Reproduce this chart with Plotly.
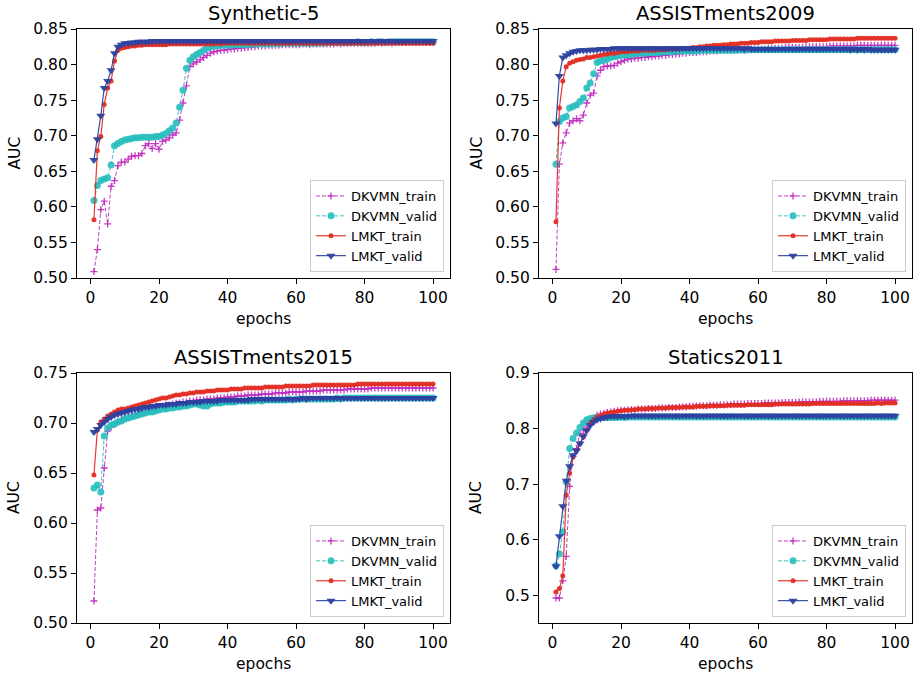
import plotly.graph_objects as go

epochs = list(range(1, 101))

# ---------------- Synthetic-5 ----------------
syn_dkvmn_train = [
    0.509, 0.540, 0.596, 0.608, 0.576, 0.629, 0.637, 0.658, 0.663, 0.663,
    0.667, 0.671, 0.672, 0.672, 0.675, 0.686, 0.689, 0.682, 0.689, 0.681,
    0.692, 0.694, 0.697, 0.701, 0.704, 0.722, 0.746, 0.770, 0.797, 0.801,
    0.804, 0.807, 0.810, 0.813, 0.816, 0.818, 0.819, 0.820, 0.820, 0.821,
    0.822, 0.822, 0.823, 0.823, 0.824, 0.824, 0.825, 0.825, 0.826, 0.826,
    0.826, 0.827, 0.827, 0.827, 0.827, 0.828, 0.828, 0.828, 0.828, 0.828,
    0.828, 0.829, 0.829, 0.828, 0.829, 0.829, 0.829, 0.829, 0.829, 0.829,
    0.829, 0.830, 0.829, 0.830, 0.830, 0.830, 0.830, 0.830, 0.830, 0.830,
    0.830, 0.830, 0.830, 0.831, 0.830, 0.831, 0.831, 0.830, 0.831, 0.831,
    0.831, 0.831, 0.831, 0.831, 0.831, 0.831, 0.831, 0.831, 0.831, 0.831]
syn_dkvmn_valid = [
    0.609, 0.630, 0.637, 0.639, 0.641, 0.659, 0.686, 0.689, 0.692, 0.694,
    0.695, 0.696, 0.697, 0.697, 0.698, 0.698, 0.698, 0.698, 0.699, 0.699,
    0.701, 0.703, 0.707, 0.711, 0.718, 0.740, 0.764, 0.795, 0.806, 0.811,
    0.814, 0.817, 0.820, 0.823, 0.825, 0.826, 0.826, 0.827, 0.827, 0.827,
    0.827, 0.828, 0.828, 0.828, 0.828, 0.828, 0.829, 0.829, 0.829, 0.829,
    0.829, 0.829, 0.829, 0.830, 0.829, 0.830, 0.830, 0.830, 0.830, 0.830,
    0.830, 0.830, 0.830, 0.830, 0.830, 0.830, 0.831, 0.830, 0.831, 0.831,
    0.831, 0.831, 0.831, 0.831, 0.831, 0.831, 0.831, 0.832, 0.831, 0.831,
    0.831, 0.832, 0.831, 0.832, 0.832, 0.831, 0.832, 0.832, 0.832, 0.832,
    0.832, 0.832, 0.832, 0.832, 0.832, 0.832, 0.832, 0.832, 0.832, 0.832]
syn_lmkt_train = [
    0.582, 0.679, 0.699, 0.744, 0.767, 0.777, 0.805, 0.820, 0.823, 0.824,
    0.825, 0.826, 0.826, 0.827, 0.827, 0.828, 0.828, 0.828, 0.828, 0.828,
    0.828, 0.828, 0.829, 0.829, 0.829, 0.829, 0.829, 0.829, 0.829, 0.829,
    0.829, 0.829, 0.829, 0.829, 0.829, 0.829, 0.830, 0.829, 0.830, 0.830,
    0.830, 0.830, 0.830, 0.830, 0.830, 0.830, 0.830, 0.830, 0.830, 0.830,
    0.830, 0.830, 0.830, 0.830, 0.830, 0.830, 0.830, 0.830, 0.830, 0.830,
    0.830, 0.830, 0.830, 0.830, 0.830, 0.830, 0.830, 0.830, 0.830, 0.830,
    0.830, 0.830, 0.830, 0.830, 0.830, 0.830, 0.830, 0.830, 0.830, 0.830,
    0.830, 0.830, 0.830, 0.830, 0.830, 0.830, 0.830, 0.830, 0.830, 0.830,
    0.830, 0.830, 0.830, 0.830, 0.830, 0.830, 0.830, 0.830, 0.830, 0.830]
syn_lmkt_valid = [
    0.666, 0.695, 0.728, 0.767, 0.777, 0.792, 0.816, 0.825, 0.828, 0.830,
    0.830, 0.831, 0.831, 0.832, 0.832, 0.832, 0.832, 0.833, 0.833, 0.833,
    0.833, 0.833, 0.833, 0.833, 0.833, 0.833, 0.833, 0.833, 0.833, 0.833,
    0.833, 0.833, 0.833, 0.833, 0.833, 0.833, 0.833, 0.833, 0.833, 0.833,
    0.833, 0.833, 0.833, 0.833, 0.833, 0.833, 0.833, 0.833, 0.833, 0.833,
    0.833, 0.833, 0.833, 0.833, 0.833, 0.833, 0.833, 0.833, 0.833, 0.833,
    0.833, 0.833, 0.833, 0.833, 0.833, 0.833, 0.833, 0.833, 0.833, 0.833,
    0.833, 0.833, 0.833, 0.833, 0.833, 0.833, 0.833, 0.833, 0.833, 0.833,
    0.833, 0.833, 0.833, 0.833, 0.833, 0.833, 0.833, 0.833, 0.833, 0.833,
    0.833, 0.833, 0.833, 0.833, 0.833, 0.833, 0.833, 0.833, 0.833, 0.833]

# ---------------- ASSISTments2009 ----------------
a09_dkvmn_train = [
    0.512, 0.660, 0.690, 0.704, 0.718, 0.721, 0.724, 0.721, 0.729, 0.746,
    0.757, 0.760, 0.784, 0.792, 0.797, 0.798, 0.798, 0.799, 0.802, 0.804,
    0.806, 0.808, 0.808, 0.809, 0.809, 0.810, 0.810, 0.811, 0.811, 0.812,
    0.812, 0.813, 0.813, 0.814, 0.814, 0.815, 0.815, 0.816, 0.816, 0.817,
    0.817, 0.817, 0.818, 0.818, 0.818, 0.819, 0.819, 0.819, 0.820, 0.820,
    0.820, 0.820, 0.821, 0.821, 0.821, 0.821, 0.821, 0.822, 0.822, 0.822,
    0.822, 0.822, 0.823, 0.823, 0.823, 0.823, 0.823, 0.824, 0.824, 0.824,
    0.824, 0.824, 0.824, 0.825, 0.825, 0.825, 0.825, 0.825, 0.825, 0.825,
    0.826, 0.826, 0.826, 0.826, 0.826, 0.826, 0.826, 0.826, 0.827, 0.827,
    0.827, 0.827, 0.827, 0.827, 0.827, 0.827, 0.827, 0.827, 0.827, 0.827]
a09_dkvmn_valid = [
    0.660, 0.720, 0.725, 0.727, 0.739, 0.741, 0.743, 0.748, 0.753, 0.767,
    0.774, 0.787, 0.803, 0.805, 0.806, 0.808, 0.810, 0.811, 0.812, 0.813,
    0.813, 0.814, 0.814, 0.815, 0.816, 0.816, 0.816, 0.817, 0.817, 0.817,
    0.817, 0.818, 0.818, 0.818, 0.818, 0.819, 0.819, 0.819, 0.819, 0.819,
    0.819, 0.819, 0.820, 0.820, 0.820, 0.820, 0.820, 0.820, 0.820, 0.820,
    0.820, 0.820, 0.820, 0.820, 0.821, 0.820, 0.821, 0.821, 0.821, 0.821,
    0.821, 0.821, 0.821, 0.821, 0.821, 0.821, 0.821, 0.821, 0.821, 0.821,
    0.821, 0.821, 0.821, 0.821, 0.821, 0.821, 0.821, 0.821, 0.821, 0.821,
    0.821, 0.821, 0.821, 0.821, 0.821, 0.821, 0.821, 0.821, 0.821, 0.821,
    0.821, 0.821, 0.821, 0.821, 0.821, 0.821, 0.821, 0.821, 0.821, 0.821]
a09_lmkt_train = [
    0.579, 0.739, 0.777, 0.797, 0.802, 0.804, 0.806, 0.807, 0.808, 0.810,
    0.810, 0.811, 0.812, 0.813, 0.814, 0.815, 0.816, 0.816, 0.817, 0.818,
    0.818, 0.818, 0.819, 0.819, 0.819, 0.820, 0.820, 0.820, 0.820, 0.820,
    0.821, 0.821, 0.821, 0.822, 0.822, 0.822, 0.822, 0.823, 0.823, 0.823,
    0.824, 0.824, 0.825, 0.825, 0.826, 0.826, 0.827, 0.827, 0.827, 0.828,
    0.828, 0.829, 0.829, 0.829, 0.830, 0.830, 0.830, 0.831, 0.831, 0.831,
    0.832, 0.832, 0.832, 0.832, 0.833, 0.833, 0.833, 0.833, 0.833, 0.834,
    0.834, 0.834, 0.834, 0.834, 0.835, 0.835, 0.835, 0.835, 0.835, 0.835,
    0.836, 0.836, 0.836, 0.836, 0.836, 0.836, 0.836, 0.836, 0.837, 0.837,
    0.837, 0.837, 0.837, 0.837, 0.837, 0.837, 0.837, 0.837, 0.837, 0.837]
a09_lmkt_valid = [
    0.717, 0.784, 0.810, 0.813, 0.816, 0.818, 0.819, 0.820, 0.820, 0.820,
    0.821, 0.821, 0.821, 0.822, 0.822, 0.822, 0.822, 0.823, 0.823, 0.823,
    0.823, 0.823, 0.823, 0.823, 0.823, 0.823, 0.823, 0.823, 0.823, 0.823,
    0.823, 0.823, 0.823, 0.823, 0.823, 0.823, 0.823, 0.823, 0.823, 0.823,
    0.823, 0.823, 0.823, 0.823, 0.823, 0.823, 0.823, 0.823, 0.823, 0.823,
    0.823, 0.823, 0.823, 0.823, 0.823, 0.822, 0.823, 0.822, 0.822, 0.822,
    0.822, 0.822, 0.822, 0.822, 0.822, 0.822, 0.822, 0.822, 0.822, 0.822,
    0.822, 0.822, 0.822, 0.822, 0.822, 0.822, 0.822, 0.822, 0.822, 0.822,
    0.822, 0.822, 0.822, 0.822, 0.822, 0.822, 0.821, 0.822, 0.821, 0.822,
    0.821, 0.822, 0.821, 0.821, 0.821, 0.821, 0.821, 0.821, 0.821, 0.821]

# ---------------- ASSISTments2015 ----------------
a15_dkvmn_train = [
    0.522, 0.613, 0.615, 0.655, 0.692, 0.696, 0.699, 0.701, 0.703, 0.705,
    0.706, 0.707, 0.709, 0.710, 0.711, 0.712, 0.713, 0.714, 0.715, 0.716,
    0.717, 0.718, 0.718, 0.719, 0.720, 0.720, 0.721, 0.721, 0.722, 0.722,
    0.723, 0.723, 0.723, 0.724, 0.724, 0.724, 0.725, 0.725, 0.725, 0.726,
    0.726, 0.726, 0.727, 0.727, 0.727, 0.728, 0.728, 0.728, 0.728, 0.729,
    0.729, 0.729, 0.729, 0.730, 0.730, 0.730, 0.730, 0.731, 0.731, 0.731,
    0.731, 0.731, 0.732, 0.732, 0.732, 0.732, 0.732, 0.733, 0.733, 0.733,
    0.733, 0.733, 0.733, 0.733, 0.734, 0.734, 0.734, 0.734, 0.734, 0.734,
    0.734, 0.735, 0.735, 0.735, 0.735, 0.735, 0.735, 0.735, 0.735, 0.735,
    0.735, 0.735, 0.735, 0.735, 0.735, 0.735, 0.735, 0.735, 0.735, 0.735]
a15_dkvmn_valid = [
    0.635, 0.638, 0.631, 0.687, 0.695, 0.698, 0.699, 0.701, 0.702, 0.704,
    0.705, 0.706, 0.707, 0.708, 0.709, 0.710, 0.711, 0.711, 0.712, 0.713,
    0.714, 0.714, 0.715, 0.715, 0.716, 0.716, 0.717, 0.717, 0.718, 0.719,
    0.719, 0.718, 0.717, 0.717, 0.719, 0.720, 0.720, 0.720, 0.721, 0.721,
    0.721, 0.721, 0.722, 0.722, 0.722, 0.722, 0.722, 0.722, 0.723, 0.722,
    0.723, 0.723, 0.723, 0.723, 0.723, 0.723, 0.723, 0.724, 0.723, 0.724,
    0.724, 0.724, 0.724, 0.724, 0.724, 0.724, 0.724, 0.724, 0.724, 0.724,
    0.724, 0.725, 0.724, 0.725, 0.725, 0.725, 0.725, 0.725, 0.725, 0.725,
    0.725, 0.725, 0.725, 0.725, 0.725, 0.725, 0.725, 0.725, 0.725, 0.725,
    0.725, 0.725, 0.725, 0.725, 0.725, 0.725, 0.725, 0.725, 0.725, 0.725]
a15_lmkt_train = [
    0.648, 0.693, 0.701, 0.704, 0.707, 0.709, 0.711, 0.713, 0.714, 0.714,
    0.715, 0.716, 0.717, 0.718, 0.719, 0.720, 0.721, 0.722, 0.723, 0.724,
    0.725, 0.725, 0.726, 0.727, 0.728, 0.728, 0.729, 0.729, 0.730, 0.730,
    0.731, 0.731, 0.731, 0.732, 0.732, 0.732, 0.733, 0.733, 0.733, 0.733,
    0.734, 0.734, 0.734, 0.734, 0.735, 0.735, 0.735, 0.735, 0.735, 0.735,
    0.736, 0.736, 0.736, 0.736, 0.736, 0.736, 0.737, 0.737, 0.737, 0.737,
    0.737, 0.737, 0.737, 0.737, 0.738, 0.738, 0.738, 0.738, 0.738, 0.738,
    0.738, 0.738, 0.738, 0.738, 0.738, 0.738, 0.738, 0.739, 0.739, 0.739,
    0.739, 0.739, 0.739, 0.739, 0.739, 0.739, 0.739, 0.739, 0.739, 0.739,
    0.739, 0.739, 0.739, 0.739, 0.739, 0.739, 0.739, 0.739, 0.739, 0.739]
a15_lmkt_valid = [
    0.691, 0.694, 0.698, 0.701, 0.704, 0.706, 0.708, 0.709, 0.710, 0.711,
    0.712, 0.713, 0.714, 0.714, 0.715, 0.716, 0.716, 0.717, 0.717, 0.718,
    0.718, 0.718, 0.719, 0.719, 0.719, 0.720, 0.720, 0.720, 0.721, 0.721,
    0.721, 0.721, 0.722, 0.722, 0.722, 0.722, 0.722, 0.723, 0.723, 0.723,
    0.723, 0.723, 0.723, 0.723, 0.723, 0.723, 0.724, 0.724, 0.724, 0.724,
    0.724, 0.724, 0.724, 0.724, 0.724, 0.724, 0.724, 0.724, 0.724, 0.724,
    0.724, 0.725, 0.724, 0.725, 0.725, 0.725, 0.725, 0.725, 0.725, 0.725,
    0.725, 0.725, 0.725, 0.725, 0.725, 0.725, 0.725, 0.725, 0.725, 0.725,
    0.725, 0.725, 0.725, 0.725, 0.725, 0.725, 0.725, 0.725, 0.725, 0.725,
    0.725, 0.725, 0.725, 0.725, 0.725, 0.725, 0.725, 0.725, 0.725, 0.725]

# ---------------- Statics2011 ----------------
st_dkvmn_train = [
    0.495, 0.495, 0.526, 0.570, 0.696, 0.750, 0.764, 0.791, 0.797, 0.803,
    0.809, 0.818, 0.824, 0.826, 0.827, 0.829, 0.830, 0.831, 0.832, 0.833,
    0.833, 0.834, 0.834, 0.834, 0.835, 0.835, 0.835, 0.836, 0.836, 0.836,
    0.837, 0.837, 0.837, 0.838, 0.838, 0.838, 0.839, 0.839, 0.839, 0.840,
    0.840, 0.840, 0.841, 0.841, 0.841, 0.842, 0.842, 0.842, 0.843, 0.843,
    0.843, 0.843, 0.844, 0.844, 0.844, 0.844, 0.845, 0.845, 0.845, 0.845,
    0.845, 0.846, 0.846, 0.846, 0.846, 0.846, 0.847, 0.847, 0.847, 0.847,
    0.847, 0.848, 0.848, 0.848, 0.848, 0.848, 0.848, 0.849, 0.849, 0.849,
    0.849, 0.849, 0.849, 0.849, 0.850, 0.850, 0.850, 0.850, 0.850, 0.850,
    0.850, 0.850, 0.851, 0.851, 0.851, 0.851, 0.851, 0.851, 0.851, 0.851]
st_dkvmn_valid = [
    0.553, 0.574, 0.614, 0.704, 0.764, 0.782, 0.792, 0.802, 0.810, 0.816,
    0.818, 0.819, 0.820, 0.820, 0.820, 0.820, 0.820, 0.820, 0.820, 0.821,
    0.820, 0.821, 0.821, 0.821, 0.821, 0.821, 0.821, 0.821, 0.821, 0.821,
    0.821, 0.821, 0.821, 0.821, 0.821, 0.821, 0.821, 0.821, 0.821, 0.821,
    0.821, 0.821, 0.821, 0.821, 0.821, 0.821, 0.821, 0.821, 0.821, 0.821,
    0.821, 0.821, 0.821, 0.821, 0.821, 0.821, 0.821, 0.821, 0.821, 0.821,
    0.821, 0.821, 0.821, 0.821, 0.821, 0.821, 0.821, 0.821, 0.821, 0.821,
    0.821, 0.821, 0.821, 0.821, 0.821, 0.821, 0.821, 0.821, 0.821, 0.821,
    0.821, 0.821, 0.821, 0.821, 0.821, 0.821, 0.821, 0.821, 0.821, 0.821,
    0.821, 0.821, 0.821, 0.821, 0.821, 0.821, 0.821, 0.821, 0.821, 0.821]
st_lmkt_train = [
    0.506, 0.512, 0.535, 0.680, 0.720, 0.749, 0.761, 0.773, 0.785, 0.797,
    0.809, 0.816, 0.821, 0.823, 0.826, 0.828, 0.829, 0.830, 0.831, 0.832,
    0.833, 0.833, 0.834, 0.834, 0.835, 0.835, 0.835, 0.836, 0.836, 0.836,
    0.837, 0.837, 0.837, 0.838, 0.838, 0.838, 0.838, 0.839, 0.839, 0.839,
    0.839, 0.840, 0.840, 0.840, 0.840, 0.841, 0.841, 0.841, 0.841, 0.841,
    0.842, 0.842, 0.842, 0.842, 0.842, 0.842, 0.843, 0.843, 0.843, 0.843,
    0.843, 0.843, 0.843, 0.843, 0.844, 0.844, 0.844, 0.844, 0.844, 0.844,
    0.844, 0.844, 0.844, 0.844, 0.844, 0.845, 0.845, 0.845, 0.845, 0.845,
    0.845, 0.845, 0.845, 0.845, 0.845, 0.845, 0.845, 0.845, 0.845, 0.845,
    0.845, 0.845, 0.845, 0.845, 0.846, 0.845, 0.846, 0.846, 0.846, 0.846]
st_lmkt_valid = [
    0.552, 0.606, 0.660, 0.706, 0.732, 0.752, 0.760, 0.773, 0.786, 0.797,
    0.806, 0.812, 0.816, 0.818, 0.820, 0.821, 0.822, 0.822, 0.822, 0.822,
    0.822, 0.822, 0.823, 0.823, 0.823, 0.823, 0.823, 0.823, 0.823, 0.823,
    0.823, 0.823, 0.823, 0.823, 0.823, 0.823, 0.823, 0.823, 0.823, 0.823,
    0.823, 0.823, 0.823, 0.823, 0.823, 0.823, 0.823, 0.823, 0.823, 0.823,
    0.823, 0.823, 0.823, 0.823, 0.823, 0.823, 0.823, 0.823, 0.823, 0.823,
    0.823, 0.823, 0.823, 0.823, 0.823, 0.823, 0.823, 0.823, 0.823, 0.823,
    0.823, 0.823, 0.823, 0.823, 0.823, 0.823, 0.823, 0.823, 0.823, 0.823,
    0.823, 0.823, 0.823, 0.823, 0.823, 0.823, 0.823, 0.823, 0.823, 0.823,
    0.823, 0.823, 0.823, 0.823, 0.823, 0.823, 0.823, 0.823, 0.823, 0.823]

titles = ["Synthetic-5", "ASSISTments2009", "ASSISTments2015", "Statics2011"]
series_names = ["DKVMN_train", "DKVMN_valid", "LMKT_train", "LMKT_valid"]
panels = [
    [syn_dkvmn_train, syn_dkvmn_valid, syn_lmkt_train, syn_lmkt_valid],
    [a09_dkvmn_train, a09_dkvmn_valid, a09_lmkt_train, a09_lmkt_valid],
    [a15_dkvmn_train, a15_dkvmn_valid, a15_lmkt_train, a15_lmkt_valid],
    [st_dkvmn_train, st_dkvmn_valid, st_lmkt_train, st_lmkt_valid],
]
y_ranges = [[0.50, 0.85], [0.50, 0.85], [0.50, 0.75], [0.45, 0.90]]
y_ticks = [
    [0.50, 0.55, 0.60, 0.65, 0.70, 0.75, 0.80, 0.85],
    [0.50, 0.55, 0.60, 0.65, 0.70, 0.75, 0.80, 0.85],
    [0.50, 0.55, 0.60, 0.65, 0.70, 0.75],
    [0.5, 0.6, 0.7, 0.8, 0.9],
]
y_fmt = [".2f", ".2f", ".2f", ".1f"]
x_ticks = [0, 20, 40, 60, 80, 100]

W, H = 919, 675
FONT = "DejaVu Sans"
# pixel boxes of the axes (left, right, top, bottom)
boxes = [(77, 450, 29, 278), (539, 912, 29, 278), (77, 450, 373, 623), (539, 912, 373, 623)]

MAG = "rgba(190,40,190,0.9)"
CYA = "rgba(40,190,190,0.9)"
RED = "rgba(225,45,35,0.95)"
BLU = "rgba(45,65,160,0.95)"
styles = [
    dict(mode="lines+markers", line=dict(color=MAG, width=1, dash="4px,2px"),
         marker=dict(symbol="cross-thin", size=5, color=MAG, line=dict(width=1.3, color=MAG))),
    dict(mode="lines+markers", line=dict(color=CYA, width=1, dash="4px,2px"),
         marker=dict(symbol="circle", size=7, color=CYA, line=dict(width=0))),
    dict(mode="lines+markers", line=dict(color=RED, width=1.2),
         marker=dict(symbol="circle", size=5, color=RED, line=dict(width=0))),
    dict(mode="lines+markers", line=dict(color=BLU, width=1.2),
         marker=dict(symbol="triangle-down", size=8, color=BLU, line=dict(width=0))),
]

fig = go.Figure()
layout = dict(width=W, height=H,
              margin=dict(l=0, r=0, t=0, b=0, pad=0, autoexpand=False),
              paper_bgcolor="white", plot_bgcolor="white",
              font=dict(family=FONT, size=15, color="black"))
annotations = []

for i, (title, series) in enumerate(zip(titles, panels)):
    n = "" if i == 0 else str(i + 1)
    xa, ya = "x" + n, "y" + n
    leg = "legend" + n
    for name, vals, st in zip(series_names, series, styles):
        fig.add_trace(go.Scatter(x=epochs, y=vals, name=name, xaxis=xa, yaxis=ya,
                                 legend=leg, **st))
    l, r, t, b = boxes[i]
    xd = [l / W, r / W]
    yd = [1 - b / H, 1 - t / H]
    axis_common = dict(showline=True, linecolor="black", linewidth=1.2, mirror=True,
                       ticks="outside", ticklen=5, tickwidth=1.2, tickcolor="black",
                       showgrid=False, zeroline=False, automargin=False,
                       tickfont=dict(family=FONT, size=15.5))
    layout["xaxis" + n] = dict(domain=xd, anchor=ya, range=[-3.95, 104.95],
                               tickvals=x_ticks, **axis_common)
    layout["yaxis" + n] = dict(domain=yd, anchor=xa, range=y_ranges[i],
                               tickvals=y_ticks[i], tickformat=y_fmt[i], **axis_common)
    layout[leg] = dict(x=(r - 6) / W, y=1 - (b - 6) / H, xanchor="right", yanchor="bottom",
                       bgcolor="rgba(255,255,255,0.8)", bordercolor="#cccccc", borderwidth=1,
                       font=dict(family=FONT, size=13), tracegroupgap=0, itemwidth=30)
    cx = (l + r) / 2 / W
    annotations.append(dict(text=title, x=cx, y=1 - (t - 16) / H, xref="paper", yref="paper",
                            xanchor="center", yanchor="middle", showarrow=False,
                            font=dict(family=FONT, size=19.5)))
    annotations.append(dict(text="epochs", x=cx, y=1 - (b + 41) / H, xref="paper", yref="paper",
                            xanchor="center", yanchor="middle", showarrow=False,
                            font=dict(family=FONT, size=15.5)))
    annotations.append(dict(text="AUC", x=(l - 63) / W, y=1 - (t + b) / 2 / H, xref="paper",
                            yref="paper", xanchor="center", yanchor="middle", textangle=-90,
                            showarrow=False, font=dict(family=FONT, size=15.5)))

layout["annotations"] = annotations
layout["showlegend"] = True
fig.update_layout(**layout)
fig.write_html("out.html", config={"displayModeBar": False},
               post_script="document.body.style.margin='0px';")
